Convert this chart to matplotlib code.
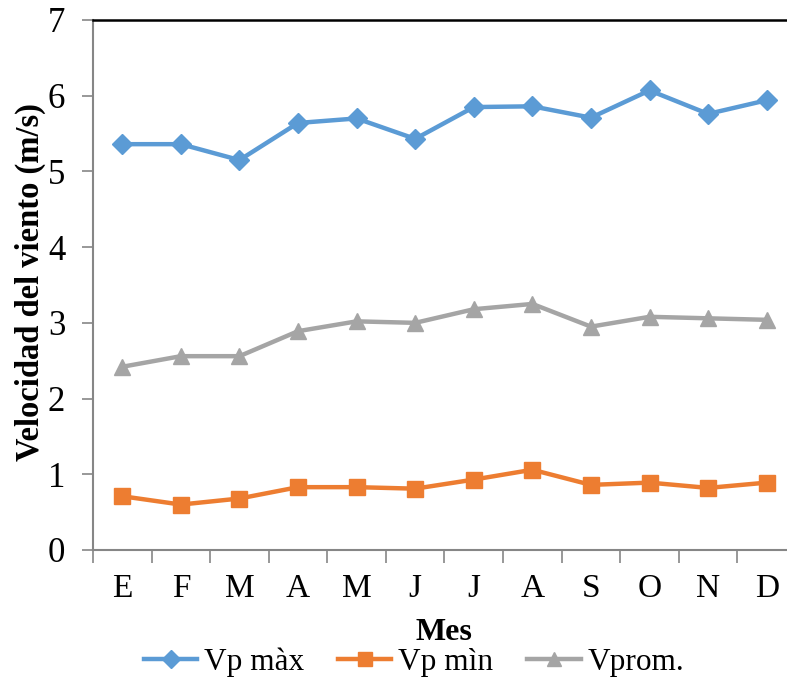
import matplotlib
matplotlib.use("Agg")
import matplotlib.pyplot as plt

months = ["E", "F", "M", "A", "M", "J", "J", "A", "S", "O", "N", "D"]
vp_max = [5.36, 5.36, 5.15, 5.64, 5.70, 5.43, 5.85, 5.86, 5.71, 6.07, 5.76, 5.94]
vp_min = [0.71, 0.60, 0.68, 0.83, 0.83, 0.81, 0.93, 1.06, 0.86, 0.89, 0.82, 0.89]
vprom = [2.42, 2.56, 2.56, 2.89, 3.02, 3.00, 3.18, 3.25, 2.95, 3.08, 3.06, 3.04]
series_names = ["Vp màx", "Vp mìn", "Vprom."]

plt.rcParams["font.family"] = ["Liberation Serif", "DejaVu Serif"]

W, H = 787, 682
fig = plt.figure(figsize=(W / 100, H / 100), dpi=100)
left, right, top, bottom = 93, 796, 20, 550
ax = fig.add_axes([left / W, 1 - bottom / H, (right - left) / W, (bottom - top) / H])

x = list(range(len(months)))
styles = [
    (vp_max, "#5B9BD5", "D", 10.5),
    (vp_min, "#ED7D31", "s", 12),
    (vprom, "#A5A5A5", "^", 12),
]
handles = []
for (vals, color, marker, ms), name in zip(styles, series_names):
    ln, = ax.plot(x, vals, color=color, lw=3.2, marker=marker, ms=ms,
                  markeredgecolor=color, label=name, clip_on=False, zorder=3)
    handles.append(ln)

ax.set_xlim(-0.5, len(months) - 0.5)
ax.set_ylim(0, 7)
ax.set_yticks(range(0, 8))
ax.set_xticks(x)
ax.set_xticklabels(months)
ax.set_xticks([i - 0.5 for i in range(len(months) + 1)], minor=True)
ax.tick_params(axis="x", which="major", length=0, pad=17, labelsize=24)
ax.tick_params(axis="x", which="minor", length=9, width=1.2, color="#868686")
ax.tick_params(axis="y", length=8, width=1.2, color="#868686", labelsize=25, pad=12)

for s in ("left", "bottom"):
    ax.spines[s].set_color("#868686")
    ax.spines[s].set_linewidth(1.5)
ax.spines["top"].set_color("black")
ax.spines["top"].set_linewidth(1.8)
ax.spines["right"].set_visible(False)

fig.text(30 / W, 1 - 282 / H, "Velocidad del viento (m/s)", rotation=90,
         ha="center", va="center", fontsize=23.5, fontweight="bold")
fig.text(444 / W, 1 - 633 / H, "Mes", ha="center", va="center",
         fontsize=23, fontweight="bold")

fig.legend(handles=handles, loc="center", bbox_to_anchor=(414 / W, 1 - 662 / H),
           ncol=3, frameon=False, fontsize=22.5, handlelength=1.7,
           handletextpad=0.22, columnspacing=1.09, markerscale=0.85,
           borderpad=0, borderaxespad=0)

fig.savefig("out.png", dpi=100)
